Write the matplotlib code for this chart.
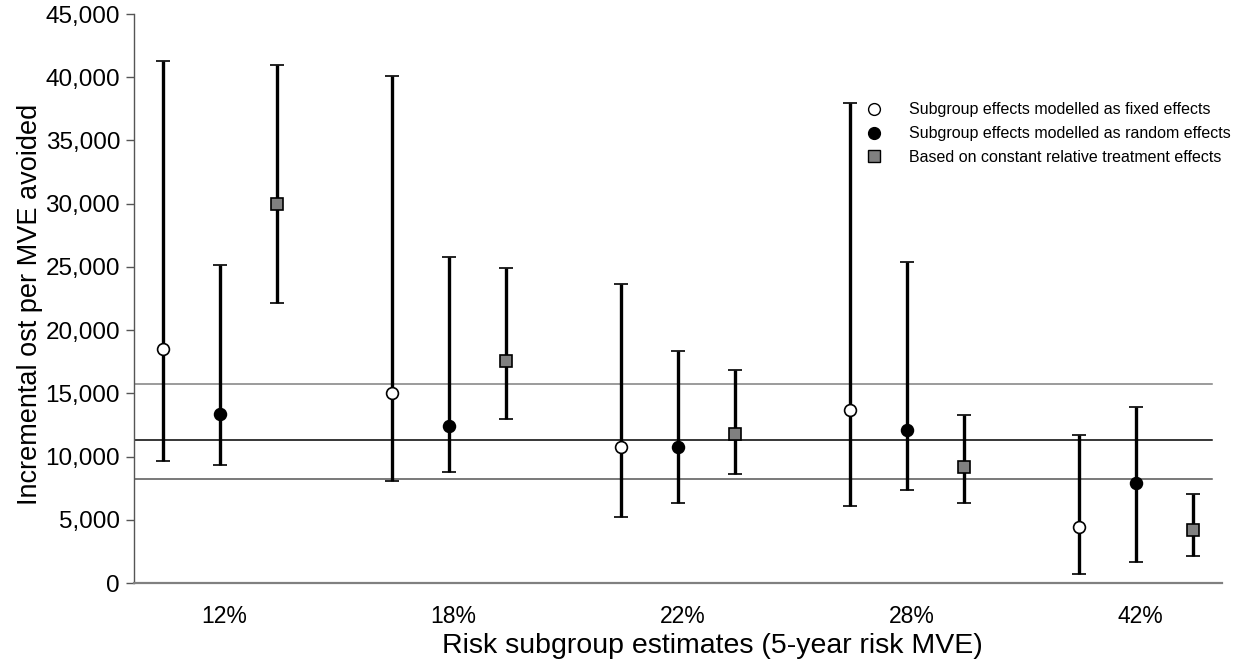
import numpy as np
import matplotlib
matplotlib.use('Agg')
import matplotlib.pyplot as plt
from matplotlib.lines import Line2D
from matplotlib.ticker import FuncFormatter

plt.rcParams['font.family'] = ['Liberation Sans', 'DejaVu Sans']

categories = ['12%', '18%', '22%', '28%', '42%']

# subgroup effects modelled as fixed effects
fixed_mid = [18500, 15000, 10750, 13650, 4450]
fixed_low = [9650, 8050, 5200, 6100, 700]
fixed_high = [41250, 40100, 23650, 37950, 11700]

# subgroup effects modelled as random effects
random_mid = [13350, 12450, 10750, 12100, 7900]
random_low = [9300, 8750, 6350, 7350, 1700]
random_high = [25150, 25750, 18350, 25400, 13900]

# constant relative treatment effects
const_mid = [30000, 17550, 11800, 9200, 4200]
const_low = [22150, 13000, 8600, 6350, 2100]
const_high = [41000, 24900, 16850, 13300, 7000]

ref_values = [15700, 11300, 8200]
ref_colors = ['#808080', 'black', '#555555']

labels = ['Subgroup effects modelled as fixed effects',
          'Subgroup effects modelled as random effects',
          'Based on constant relative treatment effects']

W, H = 1251, 667
fig = plt.figure(figsize=(W / 100, H / 100), dpi=100)
ax = fig.add_axes([134 / W, 1 - 583 / H, 1088 / W, 569 / H])

x = np.arange(len(categories))
offset = 0.249


def draw(xpos, mid, low, high, marker, mfc, ms):
    mid = np.array(mid)
    err = [mid - np.array(low), np.array(high) - mid]
    ax.errorbar(xpos, mid, yerr=err, fmt=marker, mfc=mfc, mec='black',
                mew=1.2, ms=ms, ecolor='black', elinewidth=2.4,
                capsize=4.7, capthick=2.4, zorder=3)


# reference lines stop a little short of the axis end
for val, col in zip(ref_values, ref_colors):
    ax.plot([-0.375, 4.33], [val, val], color=col, lw=1.1, zorder=1)

draw(x - offset, fixed_mid, fixed_low, fixed_high, 'o', 'white', 8.5)
draw(x, random_mid, random_low, random_high, 'o', 'black', 8.5)
draw(x + offset, const_mid, const_low, const_high, 's', '#808080', 8)

ax.set_xlim(-0.375, 4.375)
ax.set_ylim(0, 45000)
ax.set_yticks(np.arange(0, 45001, 5000))
ax.yaxis.set_major_formatter(FuncFormatter(lambda v, p: f'{int(v):,}'))
ax.set_xticks(x + 0.02)
ax.set_xticklabels(categories)

ax.tick_params(axis='y', direction='out', length=6, width=1, color='#555555',
               labelsize=17.5, pad=4)
ax.tick_params(axis='x', length=0, labelsize=16.5, pad=16)

for side in ['top', 'right']:
    ax.spines[side].set_visible(False)
ax.spines['left'].set_color('#555555')
ax.spines['left'].set_linewidth(1)
ax.spines['bottom'].set_color('#808080')
ax.spines['bottom'].set_linewidth(1.6)

ax.set_xlabel('Risk subgroup estimates (5-year risk MVE)', fontsize=20.5)
ax.set_ylabel('Incremental ost per MVE avoided', fontsize=19.5)
ax.xaxis.set_label_coords((712 - 134) / 1088, (583 - 633) / 569)
ax.yaxis.set_label_coords((43 - 134) / 1088, (583 - 304) / 569)

handles = [
    Line2D([], [], ls='none', marker='o', mfc='white', mec='black', ms=8.5),
    Line2D([], [], ls='none', marker='o', mfc='black', mec='black', ms=8.5),
    Line2D([], [], ls='none', marker='s', mfc='#808080', mec='black', ms=8),
]
ax.legend(handles, labels, loc='upper left', frameon=False, fontsize=11.5,
          bbox_to_anchor=(858 / W, 1 - 96 / H), bbox_transform=fig.transFigure,
          handlelength=1.2, handletextpad=1.6, labelspacing=0.55, borderaxespad=0)

fig.savefig('out.png', dpi=100)
